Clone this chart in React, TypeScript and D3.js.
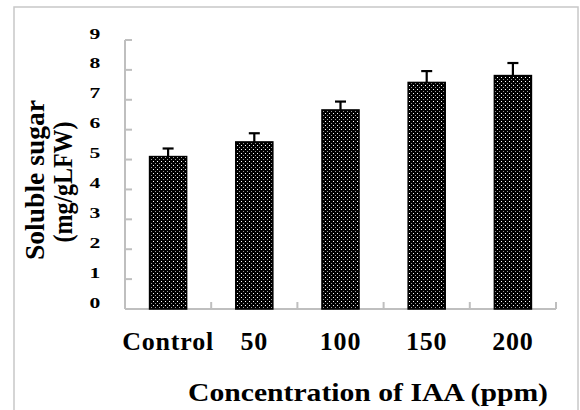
import React from "react";
import * as d3 from "d3";

const categories = ["Control", "50", "100", "150", "200"];
const sugarMeans = [5.1, 5.59, 6.66, 7.58, 7.81];
const sugarErrors = [0.27, 0.29, 0.28, 0.38, 0.42];
const yTicks = [0, 1, 2, 3, 4, 5, 6, 7, 8, 9];

const W = 580;
const H = 410;
const plot = { left: 125, right: 556, top: 40, bottom: 309 };
const serif = "'Liberation Serif', 'Times New Roman', serif";
const axisGray = "#bfbfbf";

export default function App() {
  const x = d3
    .scaleBand<string>()
    .domain(categories)
    .range([plot.left, plot.right])
    .paddingInner(0.57)
    .paddingOuter(0.285);
  const y = d3.scaleLinear().domain([0, 9]).range([plot.bottom, plot.top]);
  const step = x.step();
  const bw = x.bandwidth();

  const boundaries = d3.range(categories.length + 1).map((i) => plot.left + i * step);

  return (
    <svg
      width={W}
      height={H}
      style={{ position: "absolute", left: 0, top: 0, background: "#fff" }}
    >
      <defs>
        <pattern id="dots" width={4} height={4} patternUnits="userSpaceOnUse">
          <rect width={4} height={4} fill="#000" />
          <rect x={1} y={1} width={1} height={1} fill="#ffffff" />
          <rect x={3} y={3} width={1} height={1} fill="#9a9a9a" />
        </pattern>
      </defs>

      {/* chart frame */}
      <rect x={14} y={7} width={564} height={420} fill="none" stroke="#c8c8c8" strokeWidth={1.5} />

      {/* y axis */}
      <line x1={plot.left} x2={plot.left} y1={y(9)} y2={y(0)} stroke={axisGray} strokeWidth={2} />
      {yTicks.map((t) => (
        <g key={t}>
          <line x1={plot.left} x2={plot.left + 7} y1={y(t)} y2={y(t)} stroke={axisGray} strokeWidth={2} />
          <text
            transform={`translate(95,${y(t) - 6}) scale(1.35,0.85)`}
            textAnchor="middle"
            dominantBaseline="central"
            fontFamily={serif}
            fontWeight="bold"
            fontSize={16}
            fill="#000"
          >
            {t}
          </text>
        </g>
      ))}

      {/* x axis */}
      <line x1={plot.left} x2={plot.right} y1={y(0)} y2={y(0)} stroke={axisGray} strokeWidth={2} />
      {boundaries.map((bx, i) => (
        <line key={i} x1={bx} x2={bx} y1={y(0)} y2={y(0) - 7} stroke={axisGray} strokeWidth={2} />
      ))}

      {/* bars */}
      {categories.map((c, i) => {
        const bx = x(c)!;
        const top = y(sugarMeans[i]);
        return (
          <rect
            key={c}
            x={bx}
            y={top}
            width={bw}
            height={y(0) - top}
            fill="url(#dots)"
            stroke="#000"
            strokeWidth={1.5}
          />
        );
      })}

      {/* error bars */}
      {categories.map((c, i) => {
        const cx = x(c)! + bw / 2;
        const top = y(sugarMeans[i] + sugarErrors[i]);
        return (
          <g key={c} stroke="#000" strokeWidth={2.2}>
            <line x1={cx} x2={cx} y1={y(sugarMeans[i])} y2={top} />
            <line x1={cx - 5.5} x2={cx + 5.5} y1={top} y2={top} />
          </g>
        );
      })}

      {/* category labels */}
      {categories.map((c) => (
        <text
          key={c}
          x={x(c)! + bw / 2}
          y={350}
          textAnchor="middle"
          fontFamily={serif}
          fontWeight="bold"
          fontSize={26}
          letterSpacing={0.8}
          fill="#000"
        >
          {c}
        </text>
      ))}

      {/* axis titles */}
      <text
        x={368}
        y={401}
        textAnchor="middle"
        fontFamily={serif}
        fontWeight="bold"
        fontSize={25}
        textLength={360}
        lengthAdjust="spacingAndGlyphs"
        fill="#000"
      >
        Concentration of IAA (ppm)
      </text>
      <g transform="translate(44,180) rotate(-90)">
        <text
          x={0}
          y={0}
          textAnchor="middle"
          fontFamily={serif}
          fontWeight="bold"
          fontSize={27}
          textLength={160}
          lengthAdjust="spacingAndGlyphs"
          fill="#000"
        >
          Soluble sugar
        </text>
      </g>
      <g transform="translate(72,182) rotate(-90)">
        <text
          x={0}
          y={0}
          textAnchor="middle"
          fontFamily={serif}
          fontWeight="bold"
          fontSize={27}
          textLength={121}
          lengthAdjust="spacingAndGlyphs"
          fill="#000"
        >
          (mg/gLFW)
        </text>
      </g>
    </svg>
  );
}
